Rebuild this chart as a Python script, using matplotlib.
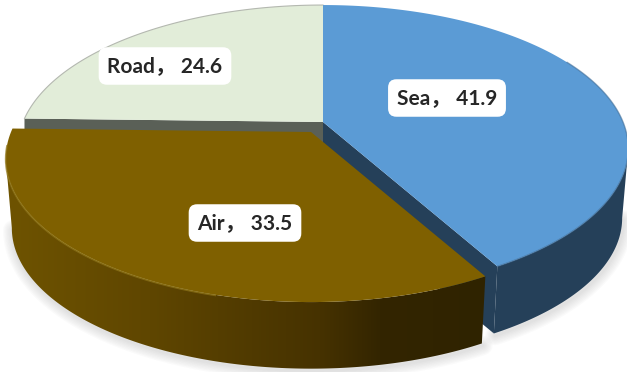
import numpy as np
import matplotlib
matplotlib.use("Agg")
import matplotlib.pyplot as plt
from matplotlib.colors import to_rgb
from matplotlib.patches import Polygon

# -------------------------
# DATA
# -------------------------
categories = ["Sea", "Air", "Road"]
values = [41.9, 33.5, 24.6]

# -------------------------
# CONFIG
# -------------------------
top_colors = {"Sea": "#5B9BD5", "Air": "#7F6000", "Road": "#E2EDD9"}
cut_colors = {"Sea": "#254059", "Road": "#5A6057"}
label_pos = {"Sea": (447, 98), "Air": (245, 223), "Road": (165, 66)}
apex = {"Sea": (323, 122), "Air": (311, 132), "Road": (323, 122)}

RX = 300      # half width of the disc
RY = 138.6    # half height before perspective
PERSP = 0.185
DEPTH = 70
BOTTOM_SCALE = 0.98

# angle where the rim is widest, the wall outline leaves the top disc there
SILHOUETTE = np.degrees(np.arccos(-PERSP))

# wall colour of Air runs dark to the right
air_stops_x = [10, 150, 320, 380, 485]
air_stops_c = ["#6E5300", "#5F4600", "#463200", "#332500", "#2F2300"]


def project(t_deg, center, scale=1.0, drop=0):
    t = np.radians(t_deg)
    w = 1 + PERSP * np.cos(t)
    x = center[0] + RX * scale * np.sin(t) / w
    y = center[1] + drop - RY * scale * np.cos(t) / w
    return x, y


# -------------------------
# ANGLES
# -------------------------
edges = np.concatenate([[0], np.cumsum(values)]) / np.sum(values) * 360
spans = {c: (edges[i], edges[i + 1]) for i, c in enumerate(categories)}
air_end = 360 - SILHOUETTE

fig = plt.figure(figsize=(6.27, 3.72), dpi=100)
ax = fig.add_axes([0, 0, 1, 1])
ax.set_xlim(0, 627)
ax.set_ylim(372, 0)
ax.axis("off")

# -------------------------
# SHADOW
# -------------------------
for name, (a, b) in [("Air", (spans["Air"][0], air_end)), ("Sea", (SILHOUETTE, spans["Sea"][1]))]:
    t = np.linspace(a, b, 120)
    sx, sy = project(t, apex[name], BOTTOM_SCALE, DEPTH)
    for lw in np.arange(2, 15, 2):
        ax.plot(sx + 1, sy + 2, color="#777777", lw=lw, alpha=0.03,
                solid_capstyle="round", zorder=1)

# -------------------------
# ROAD
# -------------------------
a, b = spans["Road"]
t = np.linspace(a, b, 120)
x, y = project(t, apex["Road"])
ax.fill([x[0], x[0], apex["Road"][0], apex["Road"][0]],
        [y[0], y[0] + DEPTH, apex["Road"][1] + DEPTH, apex["Road"][1]],
        color=cut_colors["Road"], lw=0, zorder=2)
ax.fill(np.r_[apex["Road"][0], x], np.r_[apex["Road"][1], y],
        color=top_colors["Road"], lw=0, zorder=3)
ax.plot(x, y, color="#B4B8B0", lw=0.8, zorder=3)

# -------------------------
# SEA
# -------------------------
a, b = spans["Sea"]
t = np.linspace(SILHOUETTE, b, 150)
x, y = project(t, apex["Sea"])
xb, yb = project(t, apex["Sea"], BOTTOM_SCALE, DEPTH)
ax.fill(np.r_[x, xb[::-1]], np.r_[y, yb[::-1]], color=cut_colors["Sea"], lw=0, zorder=4)

sea_x, sea_y = project(b, apex["Sea"])
sea_xb, sea_yb = project(b, apex["Sea"], BOTTOM_SCALE, DEPTH)
ax.fill([apex["Sea"][0], sea_x, sea_xb, apex["Sea"][0]],
        [apex["Sea"][1], sea_y, sea_yb, apex["Sea"][1] + DEPTH],
        color=cut_colors["Sea"], lw=0, zorder=4)

t = np.linspace(a, b, 200)
x, y = project(t, apex["Sea"])
ax.fill(np.r_[apex["Sea"][0], x], np.r_[apex["Sea"][1], y],
        color=top_colors["Sea"], lw=0, zorder=5)
ax.plot(x[t > 62], y[t > 62], color="#3F6C96", lw=1.0, alpha=0.6, zorder=5)

# -------------------------
# AIR
# -------------------------
a, b = spans["Air"]
t = np.linspace(a, air_end, 241)
x, y = project(t, apex["Air"])
xb, yb = project(t, apex["Air"], BOTTOM_SCALE, DEPTH)

# gradient wall, clipped to the band between the two rims
grad_x = np.arange(0, 627)
stops = np.array([to_rgb(c) for c in air_stops_c])
grad = np.stack([np.interp(grad_x, air_stops_x, stops[:, i]) for i in range(3)], axis=-1)
wall = Polygon(np.c_[np.r_[x, xb[::-1]], np.r_[y, yb[::-1]]], closed=True,
               transform=ax.transData, fc="none", ec="none")
ax.add_patch(wall)
im = ax.imshow(grad[np.newaxis, :, :], extent=[0, 627, 372, 0], aspect="auto",
               interpolation="bilinear", zorder=6)
im.set_clip_path(wall)
ax.set_xlim(0, 627)
ax.set_ylim(372, 0)

t = np.linspace(a, b, 241)
x, y = project(t, apex["Air"])
ax.fill(np.r_[apex["Air"][0], x], np.r_[apex["Air"][1], y],
        color=top_colors["Air"], lw=0, zorder=7)
# light rim along the front edge
front = (t > 195) & (t < 265)
ax.plot(x[front], y[front] + 0.5, color="#8F7518", lw=1.3, alpha=0.7,
        solid_capstyle="butt", zorder=7)

# -------------------------
# LABELS
# -------------------------
for name, val in zip(categories, values):
    ax.text(label_pos[name][0], label_pos[name][1], f"{name}\uff0c {val}",
            family=["Lato", "Noto Sans CJK SC", "DejaVu Sans"],
            fontsize=15, fontweight="bold", color="#262626",
            ha="center", va="center", zorder=10,
            bbox=dict(boxstyle="round,pad=0.42,rounding_size=0.4", fc="white", ec="none"))

fig.savefig("out.png", dpi=100, facecolor="white")
